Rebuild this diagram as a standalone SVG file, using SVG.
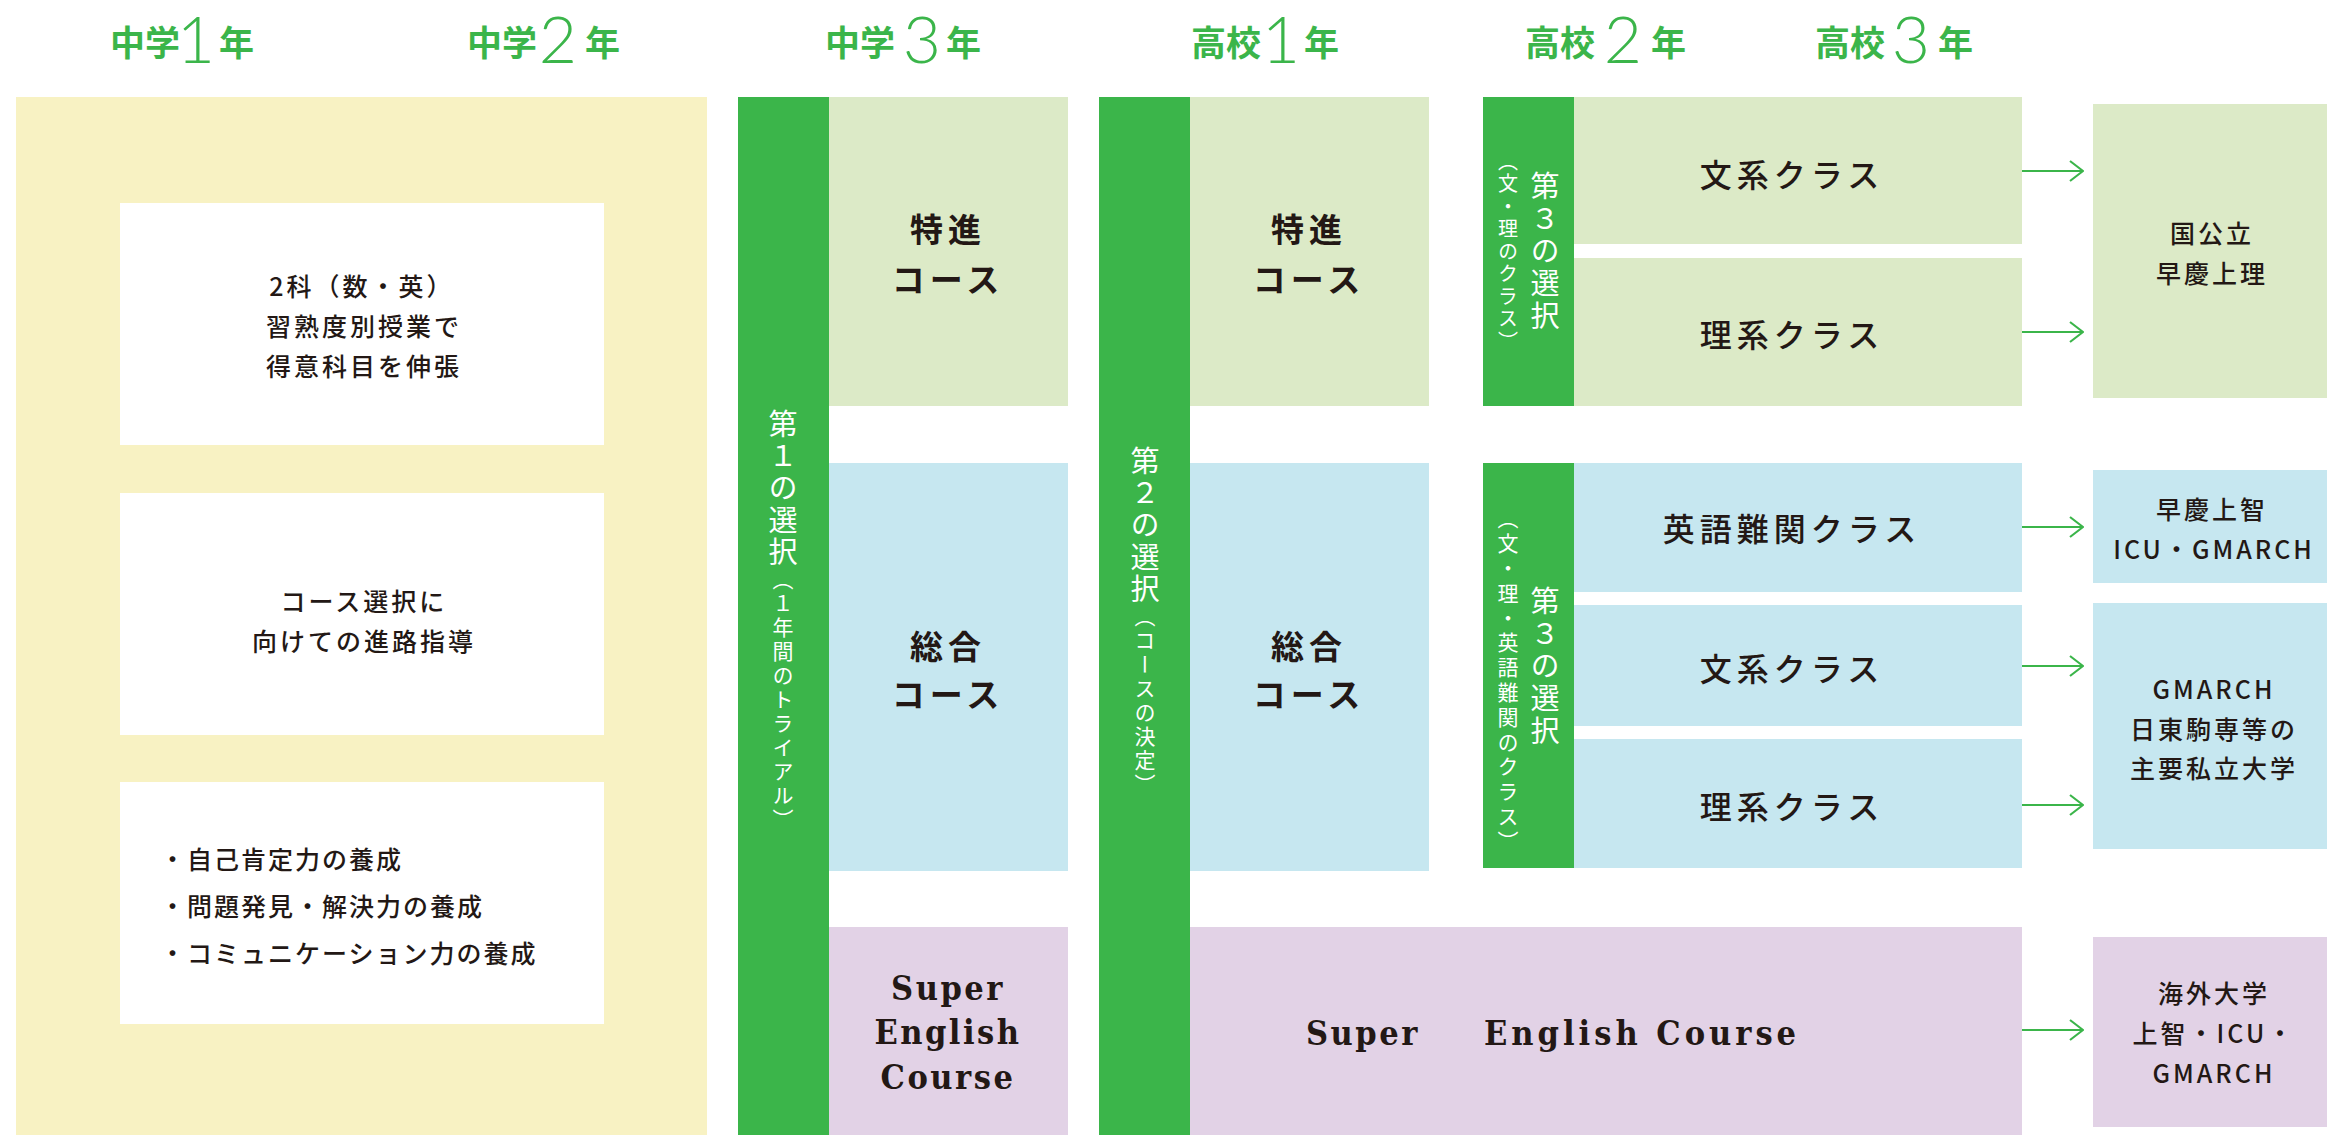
<svg xmlns="http://www.w3.org/2000/svg" width="2327" height="1135" viewBox="0 0 2327 1135">
<style>
.jp{font-family:"Noto Sans CJK JP","Noto Sans",sans-serif;fill:#231815;dominant-baseline:central}
.hd{font-family:"Noto Sans CJK JP",sans-serif;font-weight:700;font-size:35px;fill:#3BB54A;dominant-baseline:central}
.dg{font-family:Lato,"DejaVu Sans",sans-serif;font-weight:300;font-size:66px;fill:#3BB54A;text-anchor:middle}
.lp{font-size:25px;font-weight:500;letter-spacing:3px;text-anchor:middle}
.bl{font-size:25px;font-weight:500;letter-spacing:2px}
.cs{font-size:33px;font-weight:700;letter-spacing:5px;text-anchor:middle}
.cl{font-size:32px;font-weight:500;letter-spacing:5px;text-anchor:middle}
.un{font-size:25px;font-weight:500;letter-spacing:3px;text-anchor:middle}
.vt{font-family:"Noto Sans CJK JP",sans-serif;fill:#ffffff;writing-mode:vertical-rl}
.vm{font-size:29px;letter-spacing:3px}
.se{font-family:"DejaVu Serif","Liberation Serif",serif;font-size:34px;font-weight:700;fill:#231815;letter-spacing:2.5px;font-stretch:condensed}
.g{fill:#3BB54A}.lg{fill:#DCEAC7}.lb{fill:#C6E7F0}.pu{fill:#E2D2E6}.ye{fill:#F8F2C3}.wh{fill:#ffffff}
.arr{stroke:#3BB54A;stroke-width:2.2;fill:none}
</style>
<defs>
<marker id="ah" viewBox="0 0 16 24" refX="15" refY="12" markerWidth="16" markerHeight="24" markerUnits="userSpaceOnUse" orient="auto">
<path d="M2,2 L15,12 L2,22" fill="none" stroke="#3BB54A" stroke-width="2.2"/>
</marker>
</defs>
<rect width="2327" height="1135" fill="#ffffff"/>

<g id="headers">
<text class="hd" x="110" y="40">中学</text><text class="dg" x="196" y="63">1</text><text class="hd" x="219" y="40">年</text>
<text class="hd" x="467" y="40">中学</text><text class="dg" x="558" y="63">2</text><text class="hd" x="585" y="40">年</text>
<text class="hd" x="825" y="40">中学</text><text class="dg" x="922" y="63">3</text><text class="hd" x="946" y="40">年</text>
<text class="hd" x="1191" y="40">高校</text><text class="dg" x="1281" y="63">1</text><text class="hd" x="1304" y="40">年</text>
<text class="hd" x="1525" y="40">高校</text><text class="dg" x="1623" y="63">2</text><text class="hd" x="1651" y="40">年</text>
<text class="hd" x="1815" y="40">高校</text><text class="dg" x="1911" y="63">3</text><text class="hd" x="1938" y="40">年</text>
</g>

<g id="junior12">
<rect class="ye" x="16" y="97" width="691" height="1038"/>
<g id="box-subjects">
<rect class="wh" x="120" y="203" width="484" height="242"/>
<text class="jp lp" x="362" y="285">2科（数・英）</text>
<text class="jp lp" x="364" y="325">習熟度別授業で</text>
<text class="jp lp" x="364" y="365">得意科目を伸張</text>
</g>
<g id="box-guidance">
<rect class="wh" x="120" y="493" width="484" height="242"/>
<text class="jp lp" x="364" y="600">コース選択に</text>
<text class="jp lp" x="364" y="640">向けての進路指導</text>
</g>
<g id="box-skills">
<rect class="wh" x="120" y="782" width="484" height="242"/>
<text class="jp bl" x="160" y="858">・自己肯定力の養成</text>
<text class="jp bl" x="160" y="905">・問題発見・解決力の養成</text>
<text class="jp bl" x="160" y="952">・コミュニケーション力の養成</text>
</g>
</g>

<g id="choice1">
<rect class="g" x="738" y="97" width="91" height="1038"/>
<text class="vt vm" x="783" y="409">第１の選択<tspan style="font-size:21px;letter-spacing:3px">（１年間のトライアル）</tspan></text>
</g>
<g id="j3-tokushin">
<rect class="lg" x="829" y="97" width="239" height="309"/>
<text class="jp cs" x="948" y="228">特進</text>
<text class="jp cs" x="948" y="278">コース</text>
</g>
<g id="j3-sogo">
<rect class="lb" x="829" y="463" width="239" height="408"/>
<text class="jp cs" x="948" y="645">総合</text>
<text class="jp cs" x="948" y="693">コース</text>
</g>
<g id="j3-sec">
<rect class="pu" x="829" y="927" width="239" height="208"/>
<text class="se" x="948" y="1000" text-anchor="middle">Super</text>
<text class="se" x="948" y="1044" text-anchor="middle">English</text>
<text class="se" x="948" y="1089" text-anchor="middle">Course</text>
</g>

<g id="choice2">
<rect class="g" x="1099" y="97" width="91" height="1038"/>
<text class="vt vm" x="1145" y="446">第２の選択<tspan style="font-size:21px;letter-spacing:3px">（コースの決定）</tspan></text>
</g>
<g id="h1-tokushin">
<rect class="lg" x="1190" y="97" width="239" height="309"/>
<text class="jp cs" x="1309" y="228">特進</text>
<text class="jp cs" x="1309" y="278">コース</text>
</g>
<g id="h1-sogo">
<rect class="lb" x="1190" y="463" width="239" height="408"/>
<text class="jp cs" x="1309" y="645">総合</text>
<text class="jp cs" x="1309" y="693">コース</text>
</g>
<g id="h-sec">
<rect class="pu" x="1190" y="927" width="832" height="208"/>
<text class="se" x="1306" y="1045">Super</text>
<text class="se" x="1484" y="1045" style="letter-spacing:4px">English Course</text>
</g>

<g id="choice3a">
<rect class="g" x="1483" y="97" width="91" height="309"/>
<text class="vt" x="1545" y="171" style="font-size:29px;letter-spacing:3.5px">第３の選択</text>
<text class="vt" x="1508" y="151" style="font-size:20px;letter-spacing:2.5px">（文・理のクラス）</text>
</g>
<g id="tk-bunkei">
<rect class="lg" x="1574" y="97" width="448" height="147"/>
<text class="jp cl" x="1792" y="173">文系クラス</text>
</g>
<g id="tk-rikei">
<rect class="lg" x="1574" y="258" width="448" height="148"/>
<text class="jp cl" x="1792" y="333">理系クラス</text>
</g>

<g id="choice3b">
<rect class="g" x="1483" y="463" width="91" height="405"/>
<text class="vt" x="1545" y="586" style="font-size:29px;letter-spacing:3.5px">第３の選択</text>
<text class="vt" x="1508" y="508" style="font-size:21px;letter-spacing:3.8px">（文・理・英語難関のクラス）</text>
</g>
<g id="sg-eigo">
<rect class="lb" x="1574" y="463" width="448" height="129"/>
<text class="jp cl" x="1792" y="527">英語難関クラス</text>
</g>
<g id="sg-bunkei">
<rect class="lb" x="1574" y="605" width="448" height="121"/>
<text class="jp cl" x="1792" y="667">文系クラス</text>
</g>
<g id="sg-rikei">
<rect class="lb" x="1574" y="739" width="448" height="129"/>
<text class="jp cl" x="1792" y="805">理系クラス</text>
</g>

<g id="u-kokko">
<rect class="lg" x="2093" y="104" width="234" height="294"/>
<text class="jp un" x="2212" y="232">国公立</text>
<text class="jp un" x="2212" y="272">早慶上理</text>
</g>
<g id="u-soukei">
<rect class="lb" x="2093" y="470" width="234" height="113"/>
<text class="jp un" x="2212" y="508">早慶上智</text>
<text class="jp un" x="2214" y="548">ICU・GMARCH</text>
</g>
<g id="u-gmarch">
<rect class="lb" x="2093" y="603" width="234" height="246"/>
<text class="jp un" x="2214" y="688">GMARCH</text>
<text class="jp un" x="2214" y="728">日東駒専等の</text>
<text class="jp un" x="2214" y="767">主要私立大学</text>
</g>
<g id="u-kaigai">
<rect class="pu" x="2093" y="937" width="234" height="190"/>
<text class="jp un" x="2214" y="992">海外大学</text>
<text class="jp un" x="2214" y="1032">上智・ICU・</text>
<text class="jp un" x="2214" y="1072">GMARCH</text>
</g>

<g id="connectors">
<line class="arr" x1="2022" y1="171" x2="2083" y2="171" marker-end="url(#ah)"/>
<line class="arr" x1="2022" y1="332" x2="2083" y2="332" marker-end="url(#ah)"/>
<line class="arr" x1="2022" y1="527" x2="2083" y2="527" marker-end="url(#ah)"/>
<line class="arr" x1="2022" y1="666" x2="2083" y2="666" marker-end="url(#ah)"/>
<line class="arr" x1="2022" y1="805" x2="2083" y2="805" marker-end="url(#ah)"/>
<line class="arr" x1="2022" y1="1030" x2="2083" y2="1030" marker-end="url(#ah)"/>
</g>
</svg>
